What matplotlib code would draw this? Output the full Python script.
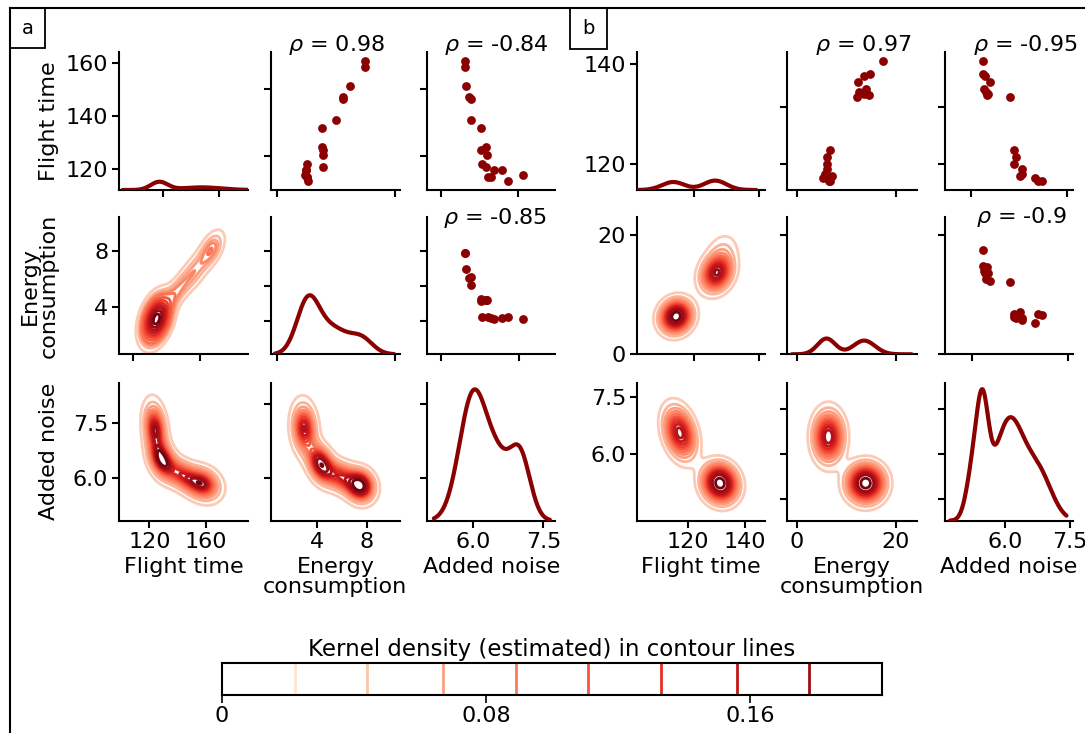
import numpy as np
import matplotlib
matplotlib.use("Agg")
import matplotlib.pyplot as plt
from matplotlib.patches import Rectangle
from matplotlib.lines import Line2D

# datos: panel a
a_ft = [160.8, 158.5, 151.2, 146.9, 146.3, 138.4, 135.5, 128.1, 127.1,
        125.2, 121.7, 120.8, 119.5, 119.5, 117.6, 116.8, 116.8, 115.5]
a_ec = [7.86, 7.86, 6.66, 6.08, 6.13, 5.52, 4.40, 4.45, 4.53,
        4.48, 3.25, 4.48, 3.14, 3.18, 3.09, 3.25, 3.22, 3.28]
a_an = [5.81, 5.81, 5.83, 5.91, 5.94, 5.95, 6.16, 6.27, 6.16,
        6.30, 6.19, 6.27, 6.44, 6.61, 7.07, 6.31, 6.37, 6.75]
a_rho = ["0.98", "-0.84", "-0.85"]

# panel b
b_ft = [140.7, 138.1, 137.6, 136.4, 135.1, 134.4, 134.0, 133.9, 133.4,
        122.9, 121.5, 120.0, 119.0, 118.1, 117.7, 117.3, 116.7, 116.7]
b_ec = [17.44, 14.76, 13.60, 12.29, 13.96, 12.60, 13.56, 14.60, 12.20,
        6.71, 6.04, 6.17, 6.04, 5.70, 7.05, 5.24, 6.71, 6.60]
b_an = [5.49, 5.50, 5.54, 5.65, 5.52, 5.56, 5.61, 5.58, 6.12,
        6.21, 6.25, 6.21, 6.39, 6.39, 6.35, 6.69, 6.77, 6.85]
b_rho = ["0.97", "-0.95", "-0.9"]

var_names = ["Flight time", "Energy\nconsumption", "Added noise"]

# curvas de densidad de la diagonal: picos (centro, ancho, peso) y soporte
a_ft_kde = ([127, 157], [6, 14], [1.0, 0.33], (101, 190))
a_ec_kde = ([3.3, 5.3, 7.6], [0.9, 1.2, 0.9], [0.88, 0.42, 0.25], (0.66, 10.2))
a_an_kde = ([6.0, 7.0, 6.55], [0.3, 0.22, 0.25], [0.97, 0.49, 0.35], (5.15, 7.64))
b_ft_kde = ([114.7, 129.5], [4, 4], [0.85, 1.0], (102, 144))
b_ec_kde = ([6.0, 13.6], [1.8, 2.2], [1.0, 0.87], (-1.0, 23.2))
b_an_kde = ([5.48, 5.25, 6.1, 6.8], [0.14, 0.15, 0.35, 0.3], [0.7, 0.3, 0.72, 0.3], (4.73, 7.42))

# densidades 2D (mx, my, sx, sy, corr, peso)
a_ft_ec = [(125, 3.1, 5.8, 0.95, 0.35, 0.72), (139, 5.0, 6.5, 0.9, 0.7, 0.09),
           (152, 6.5, 6.5, 0.9, 0.6, 0.09), (164, 8.1, 5.5, 0.8, 0.5, 0.1)]
a_ft_an = [(124, 7.35, 4.8, 0.42, -0.2, 0.28), (129, 6.5, 5.8, 0.32, -0.3, 0.25),
           (143, 6.1, 7.5, 0.27, -0.4, 0.2), (158, 5.85, 7.5, 0.27, -0.2, 0.27)]
a_ec_an = [(3.0, 7.35, 0.6, 0.42, -0.1, 0.28), (4.3, 6.4, 0.65, 0.32, -0.3, 0.25),
           (5.9, 6.05, 0.85, 0.27, -0.3, 0.2), (7.5, 5.8, 0.7, 0.27, -0.1, 0.27)]
b_ft_ec = [(115.7, 6.3, 3.2, 1.6, 0.1, 0.5), (130, 13.6, 3.2, 1.8, 0.2, 0.42),
           (132, 16.8, 3.2, 2.0, 0.2, 0.08)]
b_ft_an = [(117, 6.55, 3.3, 0.4, -0.3, 0.45), (131.2, 5.21, 3.6, 0.3, -0.1, 0.55)]
b_ec_an = [(6.4, 6.45, 1.8, 0.4, 0.0, 0.45), (13.9, 5.21, 2.2, 0.3, 0.0, 0.55)]

# niveles de la barra de color
cb_levels = [0.022, 0.044, 0.067, 0.089, 0.111, 0.133, 0.156, 0.178]
cb_ticks = [0, 0.08, 0.16]
cb_ticklabels = ["0", "0.08", "0.16"]

W, H = 1085, 733
RED = "#8b0000"


def px_rect(x0, x1, y0, y1):
    return [x0 / W, 1 - y1 / H, (x1 - x0) / W, (y1 - y0) / H]


def mix1d(x, mus, sds, ws):
    return sum(w * np.exp(-(x - m) ** 2 / (2 * s ** 2)) for m, s, w in zip(mus, sds, ws))


def mix2d(X, Y, comps):
    Z = np.zeros_like(X)
    for mx, my, sx, sy, r, w in comps:
        dx = (X - mx) / sx
        dy = (Y - my) / sy
        q = (dx ** 2 - 2 * r * dx * dy + dy ** 2) / (1 - r ** 2)
        Z += w * np.exp(-q / 2) / (2 * np.pi * sx * sy * np.sqrt(1 - r ** 2))
    return Z


def iso_levels(Z, props):
    flat = np.sort(Z.ravel())
    cum = np.cumsum(flat)
    cum = cum / cum[-1]
    return [flat[np.searchsorted(cum, p)] for p in props]


cmap = plt.get_cmap("Reds")
props = np.linspace(0.05, 0.95, 12)
line_cols = [cmap(v) for v in np.linspace(0.2, 0.97, 12)]

panels = {
    "a": dict(
        data=[a_ft, a_ec, a_an], rho=a_rho,
        kde=[a_ft_kde, a_ec_kde, a_an_kde], frac=[0.06, 0.43, 0.954],
        dens={(1, 0): a_ft_ec, (2, 0): a_ft_an, (2, 1): a_ec_an},
        cols=[(119.3, 248.3), (270.7, 400), (427.3, 555)],
        xlim=[(98.7, 190.2), (0.32, 10.67), (5.01, 7.75)],
        ylim=[(112.0, 164.15), (0.6, 10.4), (4.86, 8.57)],
        xt=[[[129.4, 169.2], [108.4, 156.0], [120, 160]],
            [[0.8, 10.3], [0.8, 10.3], [4, 8]],
            [[5.3, 6.96], [5.3, 6.97], [6.0, 7.5]]],
        yt=[[[120, 140, 160], [125, 150], [125, 150]],
            [[4, 8], [3, 5.5, 8], [3, 5.5, 8]],
            [[6.0, 7.5], [6.0, 8.0], [6.0, 8.0]]],
        rho_xy=[(336.6, 45), (496, 45), (495, 218)],
        ylabels=True, box=(10, 45, 8, 48),
    ),
    "b": dict(
        data=[b_ft, b_ec, b_an], rho=b_rho,
        kde=[b_ft_kde, b_ec_kde, b_an_kde], frac=[0.068, 0.115, 0.955],
        dens={(1, 0): b_ft_ec, (2, 0): b_ft_an, (2, 1): b_ec_an},
        cols=[(637.3, 765), (787.3, 916.7), (945, 1073)],
        xlim=[(102, 147.1), (-1.9, 24.2), (4.615, 7.57)],
        ylim=[(114.8, 142.5), (-0.1, 23.1), (4.21, 7.88)],
        xt=[[[122, 145.1], [122, 145.1], [120, 140]],
            [[0, 20], [0, 20], [0, 20]],
            [[5.21, 7.44], [5.23, 7.46], [6.0, 7.5]]],
        yt=[[[120, 140], [120.1, 131.4], [120.1, 131.4]],
            [[0, 20], [0, 20], [0, 20]],
            [[6.0, 7.5], [4.8, 6.0, 7.2], [4.8, 6.0, 7.2]]],
        rho_xy=[(863, 45), (1025, 45), (1021, 217)],
        ylabels=False, box=(570, 607, 8, 49),
    ),
}
rows = [(51.7, 190), (217, 354.3), (383, 520.7)]

plt.rcParams["font.family"] = ["DejaVu Sans"]
fig = plt.figure(figsize=(W / 100, H / 100), dpi=100)

for name, p in panels.items():
    data = [np.array(d) for d in p["data"]]
    for r in range(3):
        for c in range(3):
            x0, x1 = p["cols"][c]
            y0, y1 = rows[r]
            ax = fig.add_axes(px_rect(x0, x1, y0, y1))
            ax.set_xlim(p["xlim"][c])
            ax.set_ylim(p["ylim"][r])
            if r < c:
                ax.scatter(data[c], data[r], s=40, color=RED, linewidths=0, zorder=3)
            elif r == c:
                mus, sds, ws, (lo, hi) = p["kde"][c]
                xs = np.linspace(lo, hi, 300)
                ys = mix1d(xs, mus, sds, ws)
                tw = ax.twinx()
                tw.plot(xs, ys, color=RED, lw=3, solid_capstyle="round")
                tw.set_ylim(0, ys.max() / p["frac"][r])
                tw.axis("off")
            else:
                X, Y = np.meshgrid(np.linspace(*p["xlim"][c], 300),
                                   np.linspace(*p["ylim"][r], 300))
                Z = mix2d(X, Y, p["dens"][(r, c)])
                ax.contour(X, Y, Z, levels=iso_levels(Z, props),
                           colors=line_cols, linewidths=2.0)

            for s in ["top", "right"]:
                ax.spines[s].set_visible(False)
            for s in ["left", "bottom"]:
                ax.spines[s].set_linewidth(1.5)
            ax.tick_params(length=5, width=1.5, labelsize=16, pad=3)
            ax.set_xticks(p["xt"][c][r])
            ax.set_yticks(p["yt"][r][c])
            if r < 2:
                ax.set_xticklabels([])
            else:
                ax.set_xlabel(var_names[c], fontsize=16, linespacing=0.95)
            if c > 0:
                ax.set_yticklabels([])
            elif p["ylabels"]:
                ax.set_ylabel(var_names[r], fontsize=16, linespacing=0.95)
                ax.yaxis.set_label_coords(-0.47, 0.5)

    # textos de correlacion
    for (tx, ty), val in zip(p["rho_xy"], p["rho"]):
        fig.text(tx / W, 1 - ty / H, r"$\rho$ = " + val, fontsize=16,
                 ha="center", va="center")

    # recuadro con la letra del panel
    bx0, bx1, by0, by1 = p["box"]
    fig.add_artist(Rectangle((bx0 / W, 1 - by1 / H), (bx1 - bx0) / W, (by1 - by0) / H,
                             transform=fig.transFigure, fill=True, facecolor="white",
                             edgecolor="black", lw=1.3))
    fig.text((bx0 + bx1) / 2 / W, 1 - (by0 + by1) / 2 / H, name, fontsize=14,
             ha="center", va="center")

# marco exterior
fig.add_artist(Line2D([10 / W, 1], [1 - 8 / H, 1 - 8 / H], color="black", lw=1.5,
                      transform=fig.transFigure))
fig.add_artist(Line2D([10 / W, 10 / W], [0, 1 - 8 / H], color="black", lw=1.5,
                      transform=fig.transFigure))

# barra de colores con los niveles de contorno
cax = fig.add_axes(px_rect(222, 882, 663, 695))
cax.set_xlim(0, 0.2)
cax.set_ylim(0, 1)
cax.vlines(cb_levels, 0, 1, colors=[cmap(v / 0.2) for v in cb_levels], lw=2)
cax.set_yticks([])
cax.set_xticks(cb_ticks)
cax.set_xticklabels(cb_ticklabels)
cax.tick_params(length=6, width=1.2, labelsize=16, pad=2)
for s in cax.spines.values():
    s.set_linewidth(1.5)
cax.set_title("Kernel density (estimated) in contour lines", fontsize=16.5, pad=5)

fig.savefig("out.png", dpi=100)
